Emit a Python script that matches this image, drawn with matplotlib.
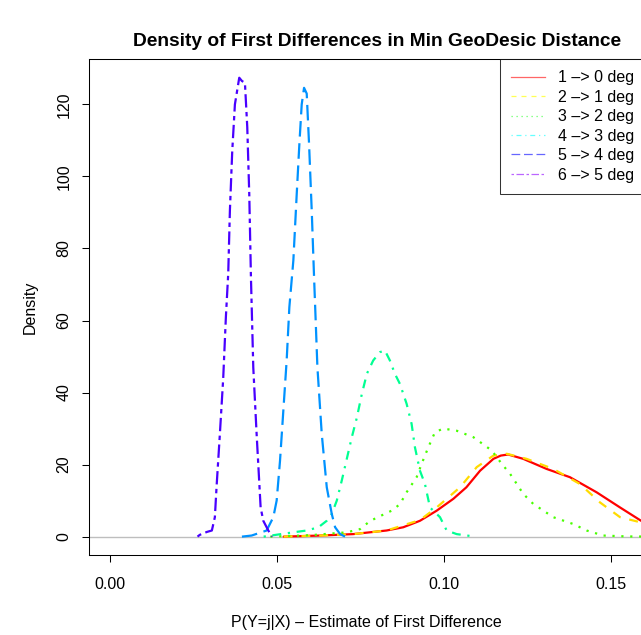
import matplotlib
matplotlib.use("Agg")
import matplotlib.pyplot as plt
from matplotlib.lines import Line2D

plt.rcParams['font.family'] = ['Liberation Sans', 'DejaVu Sans']

# ===== data (density curves) =====
labels = ['1 –> 0 deg', '2 –> 1 deg', '3 –> 2 deg', '4 –> 3 deg', '5 –> 4 deg', '6 –> 5 deg']

x_10 = [0.052, 0.0629, 0.0728, 0.0828, 0.0878, 0.0928, 0.0978, 0.1028, 0.1067, 0.1108, 0.1148,
        0.1170, 0.1192, 0.1237, 0.1307, 0.1377, 0.1457, 0.1527, 0.159, 0.166]
y_10 = [0.0, 0.3, 0.7, 1.7, 2.6, 4.4, 7.2, 10.5, 13.7, 18.3, 21.6,
        22.5, 22.8, 21.6, 18.8, 16.5, 12.3, 8.1, 4.4, 1.5]

x_21 = [0.052, 0.0629, 0.0728, 0.0828, 0.0928, 0.0978, 0.1048, 0.1098, 0.1148, 0.1188, 0.1247,
        0.1327, 0.1407, 0.1467, 0.1527, 0.1587, 0.166]
y_21 = [0.0, 0.3, 0.7, 1.7, 4.6, 8.1, 13.7, 19.3, 22.5, 23.0, 21.6,
        18.8, 14.6, 9.5, 5.4, 4.0, 2.5]

x_32 = [0.048, 0.060, 0.0709, 0.0749, 0.0778, 0.0802, 0.0843, 0.0868, 0.0888, 0.0918, 0.0933,
        0.0943, 0.0953, 0.0973, 0.0998, 0.1038, 0.1088, 0.1143, 0.1173, 0.1198, 0.1218, 0.1237,
        0.1267, 0.1327, 0.1387, 0.1427, 0.1477, 0.155, 0.166]
y_32 = [0.0, 0.4, 1.2, 2.1, 4.3, 5.4, 7.2, 9.0, 12.3, 16.5, 20.2,
        22.5, 24.8, 29.0, 30.0, 29.4, 27.6, 23.9, 20.2, 17.4, 14.6, 11.9,
        9.1, 5.4, 3.5, 1.7, 0.3, 0.05, 0.0]

x_43 = [0.046, 0.0549, 0.0589, 0.0624, 0.0649, 0.0664, 0.0679, 0.0694, 0.0709, 0.0724, 0.0739,
        0.0754, 0.0769, 0.0788, 0.0808, 0.0823, 0.0838, 0.0853, 0.0868, 0.0888, 0.0903, 0.0913,
        0.0928, 0.0943, 0.0958, 0.0988, 0.1008, 0.1038, 0.1093]
y_43 = [0.0, 1.2, 1.7, 2.6, 4.4, 6.3, 10.0, 15.6, 21.6, 27.6, 33.0,
        39.6, 45.2, 48.9, 51.2, 51.7, 48.9, 45.2, 42.4, 36.9, 31.3, 24.8,
        18.3, 14.6, 8.1, 5.4, 1.7, 0.7, 0.0]

x_54 = [0.0395, 0.0424, 0.0469, 0.0489, 0.0499, 0.0509, 0.0519, 0.0529, 0.0537, 0.0549, 0.0559,
        0.0567, 0.0574, 0.0581, 0.0589, 0.0596, 0.0604, 0.0611, 0.0621, 0.0634, 0.0649, 0.0664,
        0.0674, 0.0689, 0.0704]
y_54 = [0.0, 0.3, 1.7, 5.4, 10.0, 21.0, 35.0, 49.0, 63.7, 76.7, 95.0,
        109.0, 120.0, 124.6, 123.0, 109.0, 90.5, 72.0, 47.0, 28.5, 13.7, 6.3,
        2.6, 0.7, 0.0]

x_65 = [0.0262, 0.0269, 0.0290, 0.0305, 0.0314, 0.0319, 0.0329, 0.0339, 0.0347, 0.0354, 0.0359,
        0.0366, 0.0374, 0.0387, 0.0395, 0.0404, 0.0411, 0.0417, 0.0422, 0.0429, 0.0439, 0.0451,
        0.0459, 0.0474, 0.0485]
y_65 = [0.0, 0.5, 1.3, 1.7, 5.4, 13.7, 28.5, 44.0, 61.0, 73.0, 90.5,
        107.0, 120.0, 127.4, 126.5, 126.0, 113.7, 95.0, 72.0, 47.0, 28.5, 8.1,
        4.4, 1.7, 0.0]

xs = [x_10, x_21, x_32, x_43, x_54, x_65]
ys = [y_10, y_21, y_32, y_43, y_54, y_65]

# rainbow-ish colours for the curves, paler ones in the legend
line_cols = ['#FF0000', '#FFDB00', '#49FF00', '#00FF92', '#0092FF', '#4900FF']
leg_cols = ['#FF6666', '#FFFF55', '#66FF66', '#66FFFF', '#6666FF', '#BB66FF']
# R lty: solid, dashed, dotted, dotdash, longdash, twodash
dash_styles = [None, (4, 4), (1, 3), (1, 3, 4, 3), (7, 3), (2, 2, 6, 2)]

xticks = [0.0, 0.05, 0.10, 0.15]
yticks = [0, 20, 40, 60, 80, 100, 120]

FS = 11.5

# ===== figure =====
W, H = 641, 635
fig = plt.figure(figsize=(W / 100, H / 100), dpi=100)
left, right, top, bottom = 88.6, 665.8, 59, 555
ax = fig.add_axes([left / W, 1 - bottom / H, (right - left) / W, (bottom - top) / H])
ax.set_xlim(-0.0064, 0.1664)
ax.set_ylim(-5.1, 132.6)

ax.axhline(0, color='#BEBEBE', lw=1.0, zorder=1)

for i in range(6):
    ln, = ax.plot(xs[i], ys[i], color=line_cols[i], lw=1.6, zorder=2 + i,
                  solid_capstyle='round')
    if dash_styles[i] is not None:
        ln.set_dashes(dash_styles[i])

for s in ax.spines.values():
    s.set_linewidth(0.75)
    s.set_color('black')

ax.set_xticks(xticks)
ax.set_xticklabels(['0.00', '0.05', '0.10', '0.15'])
ax.set_yticks(yticks)
ax.set_yticklabels([str(v) for v in yticks])
ax.tick_params(axis='both', direction='out', length=5.2, width=0.75, labelsize=FS, color='black')
ax.tick_params(axis='x', pad=10.5)
ax.tick_params(axis='y', pad=7)
for lbl in ax.get_yticklabels():
    lbl.set_rotation(90)
    lbl.set_va('center')

fig.text(0.5 * (left + right) / W, 1 - 41 / H, 'Density of First Differences in Min GeoDesic Distance',
         ha='center', va='center', fontsize=13.8, fontweight='bold')
fig.text(366 / W, 1 - 622 / H, 'P(Y=j|X) – Estimate of First Difference',
         ha='center', va='center', fontsize=FS)
fig.text(30 / W, 1 - 307 / H, 'Density', rotation=90, ha='center', va='center', fontsize=FS)

# legend with thin pale lines
handles = []
for i in range(6):
    h = Line2D([], [], color=leg_cols[i], lw=0.9)
    if dash_styles[i] is not None:
        h.set_dashes(dash_styles[i])
    handles.append(h)
leg = ax.legend(handles, labels, loc='upper left',
                bbox_to_anchor=((500 - left) / (right - left), 1.0),
                fontsize=FS, frameon=True, fancybox=False, borderaxespad=0,
                borderpad=0.7, labelspacing=0.28, handlelength=2.1, handletextpad=0.8)
leg.get_frame().set_edgecolor('black')
leg.get_frame().set_linewidth(0.75)

fig.savefig('out.png', dpi=100)
